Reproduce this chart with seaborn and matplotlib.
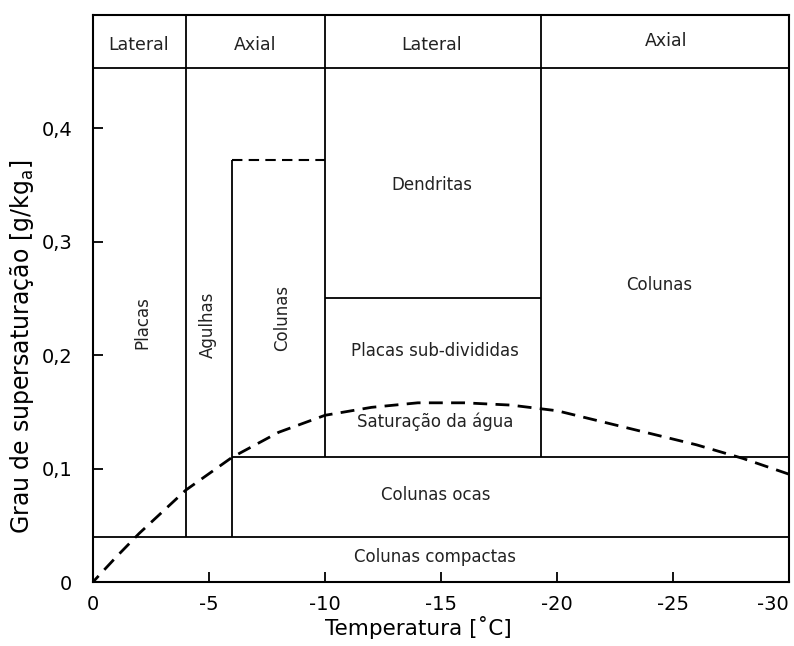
import matplotlib
matplotlib.use("Agg")
import matplotlib.pyplot as plt
import seaborn as sns
import pandas as pd

# Saturation curve (dashed)
temp = [0, -1, -2, -4, -6, -8, -10, -12, -14, -16, -18, -20, -22, -24, -26, -28, -30]
sat = [0.0, 0.022, 0.043, 0.081, 0.110, 0.132, 0.147, 0.154, 0.158, 0.158, 0.156, 0.151, 0.141, 0.131, 0.121, 0.109, 0.095]

# Region boundaries
v_x = [-4, -6, -10, -19.3]
v_ymin = [0.04, 0.04, 0.11, 0.11]
v_ymax = [0.5, 0.372, 0.5, 0.5]
h_y = [0.04, 0.11, 0.25, 0.453]
h_xmin = [0, -6, -10, 0]
h_xmax = [-30, -30, -19.3, -30]
col_top = 0.372
col_x = [-6, -10]

# Labels
band_labels = ["Lateral", "Axial", "Lateral", "Axial"]
band_x = [-1.95, -7.0, -14.6, -24.7]
band_y = [0.473, 0.473, 0.473, 0.477]
vert_labels = ["Placas", "Agulhas", "Colunas"]
vert_x = [-2.15, -4.96, -8.15]
vert_y = [0.229, 0.227, 0.233]
hor_labels = ["Dendritas", "Placas sub-divididas", "Saturação da água", "Colunas", "Colunas ocas", "Colunas compactas"]
hor_x = [-14.6, -14.75, -14.75, -24.4, -14.75, -14.75]
hor_y = [0.35, 0.204, 0.141, 0.262, 0.077, 0.022]

xticks = [0, -5, -10, -15, -20, -25, -30]
yticks = [0, 0.1, 0.2, 0.3, 0.4]
ytick_labels = ["0", "0,1", "0,2", "0,3", "0,4"]

sns.set_theme(style="white")
plt.rcParams['font.family'] = ['DejaVu Sans']

fig = plt.figure(figsize=(7.94, 6.46), dpi=100)
ax = fig.add_axes([0.117, 0.099, 0.877, 0.878])

df = pd.DataFrame({"T": temp, "S": sat})
sns.lineplot(data=df, x="T", y="S", ax=ax, color="black", lw=2, dashes=False)
ax.lines[-1].set_dashes([5, 3])

for x, a, b in zip(v_x, v_ymin, v_ymax):
    ax.vlines(x, a, b, color="black", lw=1.3)
for y, a, b in zip(h_y, h_xmin, h_xmax):
    ax.hlines(y, a, b, color="black", lw=1.3)
ax.hlines(col_top, col_x[0], col_x[1], color="black", lw=1.5, linestyles=(0, (5, 3)))

for t, x, y in zip(band_labels, band_x, band_y):
    ax.text(x, y, t, ha="center", va="center", fontsize=12.5, color="#222222")
for t, x, y in zip(vert_labels, vert_x, vert_y):
    ax.text(x, y, t, ha="center", va="center", fontsize=12, rotation=90, color="#222222")
for t, x, y in zip(hor_labels, hor_x, hor_y):
    ax.text(x, y, t, ha="center", va="center", fontsize=12, color="#222222")

ax.set_xlim(0, -30)
ax.set_ylim(0, 0.5)
ax.set_xticks(xticks)
ax.set_xticklabels([str(v) for v in xticks])
ax.get_xticklabels()[-1].set_horizontalalignment("right")
ax.set_yticks(yticks)
ax.set_yticklabels(ytick_labels)
ax.tick_params(direction="in", length=7, width=1.3, color="black", labelsize=14,
               bottom=True, left=True, labelcolor="black")
ax.tick_params(axis="y", pad=15)
ax.tick_params(axis="x", pad=9)
ax.set_xlabel("Temperatura [˚C]", fontsize=15.5, labelpad=1, color="black")
ax.xaxis.set_label_coords(0.468, -0.06)
ax.set_ylabel("Grau de supersaturação [g/kg$_\\mathregular{a}$]", fontsize=17, color="black")
ax.yaxis.set_label_coords(-0.082, 0.414)
for s in ax.spines.values():
    s.set_color("black")
    s.set_linewidth(1.5)

fig.savefig("out.png", dpi=100)
